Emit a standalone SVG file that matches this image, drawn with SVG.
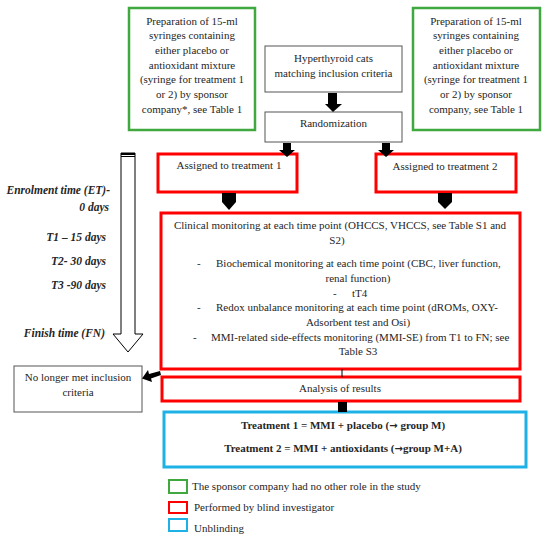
<svg xmlns="http://www.w3.org/2000/svg" width="550" height="540" viewBox="0 0 550 540">
<style>
text{font-family:"Liberation Serif","DejaVu Serif",serif;font-size:11px;fill:#262626}
.c{text-anchor:middle}
.r{text-anchor:end;font-weight:bold;font-style:italic;font-size:11.5px}
.b{font-weight:bold}
.ar{font-family:"DejaVu Sans",sans-serif;font-size:10px}
.g{fill:#fff;stroke:#3fa83f;stroke-width:2.5}
.red{fill:#fff;stroke:#f00;stroke-width:3}
.blu{fill:#fff;stroke:#1eb1e6;stroke-width:3}
.k{fill:#fff;stroke:#555;stroke-width:1}
.arr{fill:#000;stroke:none}
</style>
<rect width="550" height="540" fill="#fff"/>

<g id="timeline">
<path d="M121,153 L135,153 L135,334 L143,334 L128,352 L113,334 L121,334 Z" fill="#fff" stroke="#000" stroke-width="1"/>
<rect x="121" y="153" width="14" height="2" fill="#000"/>
<line x1="121" y1="156.5" x2="135" y2="156.5" stroke="#000" stroke-width="1"/>
<text class="r" x="110" y="194">Enrolment time (ET)-</text>
<text class="r" x="109" y="211">0 days</text>
<text class="r" x="106" y="241">T1 – 15 days</text>
<text class="r" x="106" y="265">T2- 30 days</text>
<text class="r" x="106" y="289">T3 -90 days</text>
<text class="r" x="105" y="337">Finish time (FN)</text>
</g>

<g id="prep1">
<rect class="g" x="129" y="8" width="126" height="122"/>
<text class="c" x="192" y="24.5">Preparation of 15-ml</text>
<text class="c" x="192" y="39.2">syringes containing</text>
<text class="c" x="192" y="53.9">either placebo or</text>
<text class="c" x="192" y="68.6">antioxidant mixture</text>
<text class="c" x="192" y="83.3">(syringe for treatment 1</text>
<text class="c" x="192" y="98">or 2) by sponsor</text>
<text class="c" x="192" y="112.7">company*, see Table 1</text>
</g>

<g id="prep2">
<rect class="g" x="413" y="8" width="127" height="122"/>
<text class="c" x="476" y="24.5">Preparation of 15-ml</text>
<text class="c" x="476" y="39.2">syringes containing</text>
<text class="c" x="476" y="53.9">either placebo or</text>
<text class="c" x="476" y="68.6">antioxidant mixture</text>
<text class="c" x="476" y="83.3">(syringe for treatment 1</text>
<text class="c" x="476" y="98">or 2) by sponsor</text>
<text class="c" x="476" y="112.7">company, see Table 1</text>
</g>

<g id="cats">
<rect class="k" x="265" y="46" width="137" height="46"/>
<text class="c" x="333.5" y="62">Hyperthyroid cats</text>
<text class="c" x="333.5" y="77">matching inclusion criteria</text>
</g>

<g id="randomization">
<rect class="k" x="265" y="112" width="137" height="30"/>
<text class="c" x="333.5" y="127">Randomization</text>
</g>

<g id="assigned1">
<rect class="red" x="158" y="154" width="139" height="38"/>
<text class="c" x="229" y="169">Assigned to treatment 1</text>
</g>

<g id="assigned2">
<rect class="red" x="376" y="154" width="140" height="38"/>
<text class="c" x="445" y="170">Assigned to treatment 2</text>
</g>

<g id="monitoring">
<rect class="red" x="161" y="213" width="359" height="156"/>
<text class="c" x="340" y="229">Clinical monitoring at each time point (OHCCS, VHCCS, see Table S1 and</text>
<text class="c" x="337" y="244">S2)</text>
<text x="197" y="267">-</text>
<text x="216" y="267">Biochemical monitoring at each time point (CBC, liver function,</text>
<text class="c" x="358" y="282">renal function)</text>
<text x="333" y="297">-</text>
<text x="352" y="297">tT4</text>
<text x="197" y="311">-</text>
<text x="216" y="311">Redox unbalance monitoring at each time point (dROMs, OXY-</text>
<text class="c" x="358" y="326">Adsorbent test and Osi)</text>
<text x="193" y="341">-</text>
<text x="211" y="341">MMI-related side-effects monitoring (MMI-SE) from T1 to FN; see</text>
<text class="c" x="358" y="355">Table S3</text>
</g>

<g id="nolonger">
<rect class="k" x="14" y="366" width="128" height="46"/>
<text class="c" x="78" y="381">No longer met inclusion</text>
<text class="c" x="78" y="396">criteria</text>
</g>

<g id="analysis">
<rect class="red" x="162" y="377" width="358" height="24"/>
<text class="c" x="340" y="392">Analysis of results</text>
</g>

<g id="unblinding">
<rect class="blu" x="164" y="412" width="362" height="55"/>
<text class="c b" x="343" y="429">Treatment 1 = MMI + placebo (<tspan class="ar">→</tspan> group M)</text>
<text class="c b" x="343" y="452">Treatment 2 = MMI + antioxidants (<tspan class="ar">→</tspan>group M+A)</text>
</g>

<g id="legend">
<rect x="169" y="480" width="18" height="13" fill="#fff" stroke="#3fa83f" stroke-width="2"/>
<text x="192" y="490">The sponsor company had no other role in the study</text>
<rect x="169" y="502" width="18" height="11" fill="#fff" stroke="#f00" stroke-width="2"/>
<text x="194" y="511">Performed by blind investigator</text>
<rect x="169" y="519" width="18" height="12" fill="#fff" stroke="#1eb1e6" stroke-width="2"/>
<text x="194" y="532">Unblinding</text>
</g>

<g id="connectors">
<path class="arr" d="M328,93 L337,93 L337,104 L342,104 L333,112 L325,104 L328,104 Z"/>
<path class="arr" d="M283,143 L291,143 L291,150 L295,150 L287,157 L279,150 L283,150 Z"/>
<path class="arr" d="M382,143 L390,143 L390,150 L394,150 L386,157 L378,150 L382,150 Z"/>
<path class="arr" d="M222,193 L236,193 L236,202 L229,210 L222,202 Z"/>
<path class="arr" d="M438,193 L452,193 L452,202 L445,209 L438,202 Z"/>
<path class="arr" d="M160,371 L161,375 L151,378.5 L152,382 L142,378.5 L148,370 L149,374 Z"/>
<line x1="342" y1="369" x2="342" y2="377" stroke="#000" stroke-width="1"/>
<rect class="arr" x="338" y="402" width="9" height="10"/>
</g>
</svg>
